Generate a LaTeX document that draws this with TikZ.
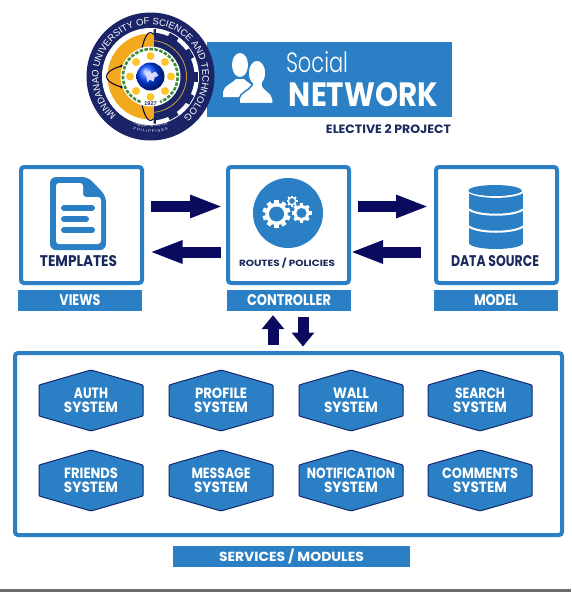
\documentclass[tikz,border=0pt]{standalone}
\usepackage{fontspec}
\usepackage{graphicx}
\setmainfont{Poppins}
\newfontfamily\sealfont{Liberation Sans}
\newfontfamily\lightfont{Poppins Light}
\usetikzlibrary{calc,arrows.meta,decorations.text,shadings}
\definecolor{brandblue}{HTML}{2B80C5}
\definecolor{arrownavy}{HTML}{0A0A5E}
\definecolor{hexedge}{HTML}{14266B}
\definecolor{inkdark}{HTML}{1B2A5C}
\definecolor{sealnavy}{HTML}{1A2466}
\definecolor{sealorange}{HTML}{F2A91E}
\definecolor{sealgreen}{HTML}{3F8F3A}
\definecolor{sealyellow}{HTML}{FBC52B}
\definecolor{sealgold}{HTML}{C9A03A}
\definecolor{footgrey}{HTML}{6B6B70}
\newcommand{\tx}[3]{\resizebox{#1pt}{#2pt}{\bfseries #3}}
\tikzset{
  panel/.style={draw=brandblue,line width=4pt,fill=white,rounded corners=3pt,inner sep=0pt},
  labelbar/.style={fill=brandblue,text=white,inner sep=0pt},
  inktext/.style={text=inkdark,inner sep=0pt},
  blockarrow/.style={draw=arrownavy,line width=11pt,-{Triangle[length=33pt,width=21pt,fill=arrownavy]}},
  blockup/.style={draw=arrownavy,line width=11pt,-{Triangle[length=14pt,width=22pt,fill=arrownavy]}},
  hexshape/.style={fill=brandblue,draw=hexedge,line width=1pt,rounded corners=1pt},
  hextext/.style={text=white,inner sep=0pt,align=center,font=\fontsize{10}{14.3}\selectfont},
}
\newcommand{\hexa}[6]{%
  \path[hexshape] (#2-52,#3) -- (#2-52,#3-15.5) -- (#2,#3-30.5) -- (#2+52,#3-15.5) -- (#2+52,#3+15.5) -- (#2,#3+30.5) -- (#2-52,#3+15.5) -- cycle;
  \node[hextext] (#1) at (#2,#3) {\tx{#4}{10.5}{#5}\\\tx{54}{10.5}{#6}};
}
\newcommand{\gearicon}[5]{%
  \foreach \a in {0,1,...,#5} {
    \fill[white,shift={(#1,#2)},rotate=\a*360/#5] (-#3*0.16,0) rectangle (#3*0.16,#3);
  }
  \fill[white] (#1,#2) circle[radius=#3*0.8 pt];
  \fill[brandblue] (#1,#2) circle[radius=#4 pt];
}
\begin{document}
\begin{tikzpicture}[x=1pt,y=-1pt]
\useasboundingbox (0,0) rectangle (571,592);
\fill[white] (0,0) rectangle (571,592);
\fill[footgrey] (0,589) rectangle (571,592);

% banner
\node[fill=brandblue,minimum width=245pt,minimum height=75pt,inner sep=0pt] (banner) at (329.5,79.5) {};
\node[text=white,inner sep=0pt] (social) at (317,62.5) {\resizebox{62pt}{21pt}{\lightfont Social}};
\node[text=white,inner sep=0pt] (network) at (363.5,94.5) {\tx{149}{24}{NETWORK}};
\node[inktext] (elective) at (388.5,129.5) {\tx{125}{9}{ELECTIVE 2 PROJECT}};
% people icon
\fill[white] (240,65) ellipse[x radius=8pt,y radius=12pt];
\fill[white] (223,97) -- (223,92) .. controls (224,85) and (232,84) .. (236,79) -- (244,79) .. controls (248,84) and (256,85) .. (257,92) -- (257,97) -- cycle;
\path[fill=white,draw=brandblue,line width=1.5pt] (239,103.5) -- (239,99) .. controls (240,92) and (249,91) .. (252,85) -- (262,85) .. controls (265,91) and (272,92) .. (273,99) -- (273,103.5) -- cycle;
\path[fill=white,draw=brandblue,line width=1.5pt] (257,73) ellipse[x radius=9pt,y radius=13pt];
\fill[white] (252.5,82) rectangle (261.5,92);

% seal
\begin{scope}[shift={(150.5,76.5)},y=1pt]
  \fill[sealnavy] (0,0) circle[radius=64pt];
  \fill[white] (0,0) circle[radius=48.5pt];
  \begin{scope}
    \clip (3,-60) rectangle (60,60);
    \foreach \a in {0,30,...,330} {
      \fill[sealnavy,rotate=\a] (42,-5) rectangle (47.5,5);
    }
    \fill[sealnavy] (0,0) circle[radius=44pt];
    \draw[sealgold,line width=0.8pt] (0,0) circle[radius=36pt];
  \end{scope}
  \begin{scope}
    \clip (-60,-60) rectangle (3,60);
    \fill[sealorange] (0,0) circle[radius=43pt];
    \draw[black!80!blue,line width=1pt] (0,0) ellipse[x radius=44pt,y radius=14pt];
    \draw[black!80!blue,line width=1pt] (0,0) ellipse[x radius=11pt,y radius=44pt];
    \fill[black!80!blue] (-29,10.5) circle[radius=1.5pt];
    \fill[black!80!blue] (-29,-10.5) circle[radius=1.5pt];
  \end{scope}
  \fill[white] (0,0) circle[radius=30pt];
  \draw[sealgreen,line width=2.6pt,dash pattern=on 3.5pt off 1.5pt] (-10,-25.5) arc[start angle=249,end angle=-69,radius=27.4pt];
  \foreach \a in {0,45,...,315} {
    \fill[sealyellow] (\a:20.5pt) circle[radius=4pt];
  }
  \shade[ball color=blue!75!cyan] (0,0) circle[radius=14pt];
  \fill[white!85!blue] (-6,3) -- (-1,6) -- (1,3) -- (5,5) -- (8,1) -- (4,-1) -- (3,-5) -- (-1,-3) -- (-3,-6) -- (-4,-1) -- cycle;
  \node[text=sealnavy,inner sep=0pt,font=\sealfont\bfseries\fontsize{5.5}{5.5}\selectfont] (year) at (0,-27) {1927};
  \path[decorate,decoration={text along path,text align=fit to path,
    text={|\sealfont\fontsize{9.4}{9.4}\selectfont\color{white}|MINDANAO UNIVERSITY OF SCIENCE AND TECHNOLOGY}}]
    (0,0) ++(229:52pt) arc[start angle=229,end angle=-49,radius=52pt];
  \path[decorate,decoration={text along path,text align=fit to path,
    text={|\sealfont\fontsize{3.8}{3.8}\selectfont\color{white}|Cagayan de Oro City}}]
    (0,0) ++(250:50.5pt) arc[start angle=250,end angle=290,radius=50.5pt];
  \path[decorate,decoration={text along path,text align=fit to path,
    text={|\sealfont\fontsize{3.8}{3.8}\selectfont\color{white}|PHILIPPINES}}]
    (0,0) ++(252:56pt) arc[start angle=252,end angle=288,radius=56pt];
\end{scope}

% panels
\node[panel,minimum width=121pt,minimum height=116pt] (views) at (81.5,225) {};
\node[panel,minimum width=121pt,minimum height=116pt] (controller) at (288.5,225) {};
\node[panel,minimum width=121pt,minimum height=116pt] (model) at (496.5,225) {};
\node[panel,minimum width=547pt,minimum height=182pt] (services) at (288.5,444) {};

% label bars
\node[labelbar,minimum width=124pt,minimum height=21pt] (viewsbar) at (80,300.5) {\tx{41}{11}{VIEWS}};
\node[labelbar,minimum width=124pt,minimum height=21pt] (controllerbar) at (289,300.5) {\tx{84}{11}{CONTROLLER}};
\node[labelbar,minimum width=124pt,minimum height=21pt] (modelbar) at (496,300.5) {\tx{44}{11}{MODEL}};
\node[labelbar,minimum width=237pt,minimum height=21pt] (servicesbar) at (291.5,556.5) {\tx{145}{12.5}{SERVICES / MODULES}};

% document icon
\fill[brandblue,rounded corners=6pt] (50,177) -- (88,177) -- (106,196) -- (106,250) -- (50,250) -- cycle;
\fill[white,rounded corners=3pt] (56,183) -- (83,183) -- (83,197) -- (101,197) -- (101,244) -- (56,244) -- cycle;
\draw[brandblue,line width=6pt,line cap=round] (64,208) -- (92,208);
\draw[brandblue,line width=6pt,line cap=round] (64,219) -- (86,219);
\draw[brandblue,line width=6pt,line cap=round] (64,230) -- (92,230);
\node[inktext] (templates) at (78.5,261.5) {\tx{77}{11}{TEMPLATES}};

% gears icon
\fill[brandblue] (288,213) circle[radius=35pt];
\gearicon{276.5}{214}{14}{7.5}{10}
\gearicon{301.5}{213}{10}{5}{8}
\gearicon{292}{201}{5.5}{2.8}{8}
\node[inktext] (routes) at (287,263.5) {\tx{96}{8.5}{ROUTES / POLICIES}};

% database icon
\fill[brandblue] (469,191) rectangle (523,243);
\fill[brandblue] (496,243) ellipse[x radius=27pt,y radius=6pt];
\draw[white,line width=2pt] (467,190.5) .. controls (475,199) and (517,199) .. (525,190.5);
\draw[white,line width=2pt] (467,208) .. controls (475,217) and (517,217) .. (525,208);
\draw[white,line width=2pt] (467,225) .. controls (475,234) and (517,234) .. (525,225);
\fill[brandblue] (495,190.5) ellipse[x radius=26.5pt,y radius=5.5pt];
\node[inktext] (datasource) at (495,261.5) {\tx{88}{11}{DATA SOURCE}};

% connectors
\draw[blockarrow] ($(views.east)+(7,-18.5)$) -- ($(controller.west)+(-3,-18.5)$);
\draw[blockarrow] ($(controller.west)+(-5,27)$) -- ($(views.east)+(5.5,27)$);
\draw[blockarrow] ($(controller.east)+(7,-18.5)$) -- ($(model.west)+(-5,-18.5)$);
\draw[blockarrow] ($(model.west)+(-13,27)$) -- ($(controller.east)+(-1,27)$);
\draw[blockup] ($(services.north)+(-15.5,-6)$) -- ($(controllerbar.south)+(-16,4)$);
\draw[blockup] ($(controllerbar.south)+(14,6)$) -- ($(services.north)+(14.5,-4.5)$);

% service hexagons
\hexa{auth}{91}{400.5}{34}{AUTH}{SYSTEM}
\hexa{profile}{221}{400.5}{52}{PROFILE}{SYSTEM}
\hexa{wall}{351}{400.5}{36}{WALL}{SYSTEM}
\hexa{search}{480}{400.5}{50}{SEARCH}{SYSTEM}
\hexa{friends}{91}{480.5}{54}{FRIENDS}{SYSTEM}
\hexa{message}{221}{480.5}{59}{MESSAGE}{SYSTEM}
\hexa{notification}{351}{480.5}{88}{NOTIFICATION}{SYSTEM}
\hexa{comments}{480}{480.5}{76}{COMMENTS}{SYSTEM}
\end{tikzpicture}
\end{document}
